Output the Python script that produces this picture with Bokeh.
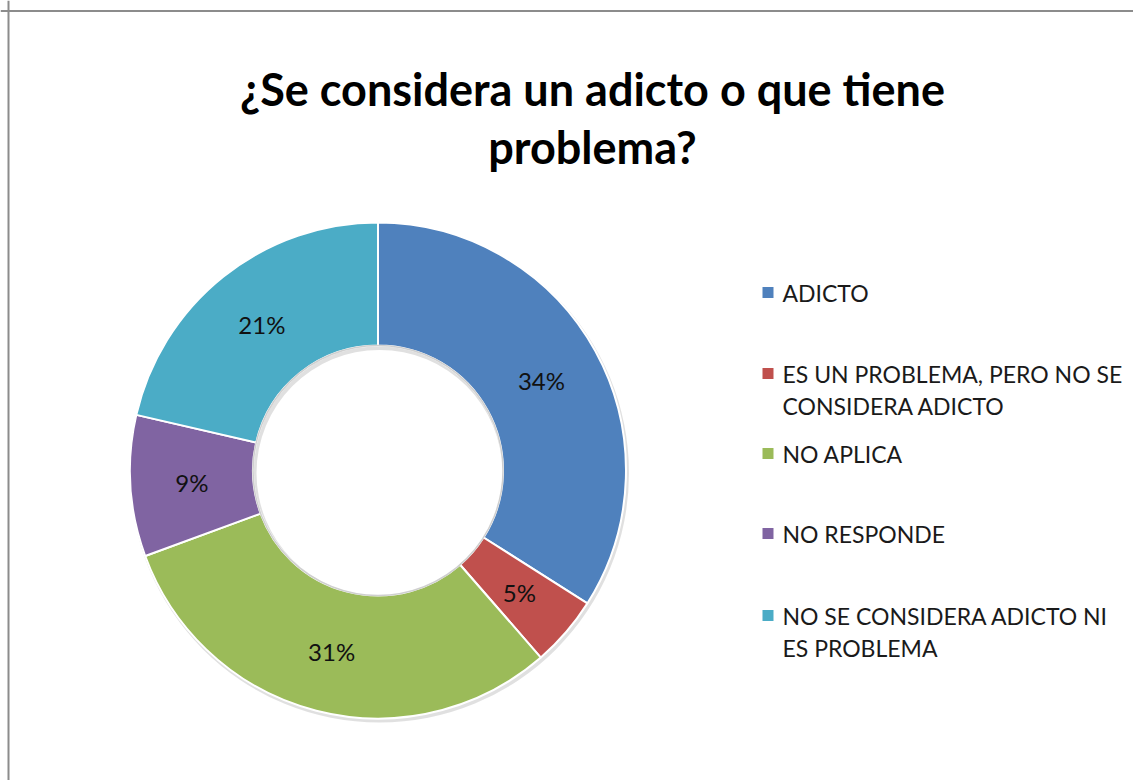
import math
from bokeh.plotting import figure
from bokeh.models import Range1d, Span
from bokeh.core.properties import value
from bokeh.embed import file_html
from bokeh.resources import INLINE

# ---- data ----
categories = ["ADICTO",
              "ES UN PROBLEMA, PERO NO SE\nCONSIDERA ADICTO",
              "NO APLICA",
              "NO RESPONDE",
              "NO SE CONSIDERA ADICTO NI\nES PROBLEMA"]
values = [34.0, 4.6, 30.8, 9.2, 21.4]
colors = ["#4F81BD", "#C0504D", "#9BBB59", "#8064A2", "#4BACC6"]
title_lines = ["¿Se considera un adicto o que tiene", "problema?"]

# ---- layout (pixel-like data units) ----
W, H = 1133, 780
def px(x): return x
def py(y): return H - y

cx, cy = px(377.5), py(470)
R_OUT, R_IN = 248, 125
FONT = "Lato"

p = figure(width=W, height=H, output_backend="svg", toolbar_location=None,
           x_range=Range1d(0, W), y_range=Range1d(0, H), min_border=0)
p.axis.visible = False
p.grid.visible = False
p.outline_line_color = None
p.background_fill_color = "white"
p.border_fill_color = "white"

# chart area border (left & top visible)
p.add_layout(Span(location=px(8), dimension="height", line_color="#8c8c8c", line_width=2))
p.add_layout(Span(location=py(10.5), dimension="width", line_color="#8c8c8c", line_width=2))

# title
for line, base in zip(title_lines, [88, 146]):
    p.text(x=[px(592)], y=[py(base)], text=[line], text_font=value(FONT),
           text_font_style="bold", text_font_size="45px", text_align="center",
           text_baseline="alphabetic", text_color="#000000")

# shadow
p.annulus(x=[cx + 1.5], y=[cy - 2.5], inner_radius=R_IN - 2, outer_radius=R_OUT + 1.5,
          fill_color="#000000", fill_alpha=0.12, line_color=None)

# donut
total = sum(values)
starts, ends, mids = [], [], []
cum = 0.0
for v in values:
    a0 = math.pi / 2 - 2 * math.pi * cum / total
    cum += v
    a1 = math.pi / 2 - 2 * math.pi * cum / total
    starts.append(a0); ends.append(a1); mids.append((a0 + a1) / 2)

p.annular_wedge(x=cx, y=cy, inner_radius=R_IN, outer_radius=R_OUT,
                start_angle=starts, end_angle=ends, direction="clock",
                fill_color=colors, line_color="white", line_width=2)
p.circle(x=[cx], y=[cy], radius=R_IN, fill_color=None, line_color="#cfcfcf", line_width=1.5)

# data labels
r_mid = (R_OUT + R_IN) / 2
lx = [cx + r_mid * math.cos(a) for a in mids]
ly = [cy + r_mid * math.sin(a) for a in mids]
labels = [f"{round(v / total * 100)}%" for v in values]
p.text(x=lx, y=ly, text=labels, text_font=value(FONT), text_font_size="24px",
       text_align="center", text_baseline="middle", text_color="#111111")

# legend
leg_rows = [292, 373, 453, 533, 615]
LINE_H = 32
for cat, col, ry in zip(categories, colors, leg_rows):
    p.scatter(x=[px(767.5)], y=[py(ry)], marker="square", size=11,
              fill_color=col, line_color=None)
    for i, line in enumerate(cat.split("\n")):
        p.text(x=[px(782)], y=[py(ry + i * LINE_H)], text=[line], text_font=value(FONT),
               text_font_size="23px", text_align="left", text_baseline="middle",
               text_color="#1a1a1a")

open("out.html", "w").write(file_html(p, INLINE))
